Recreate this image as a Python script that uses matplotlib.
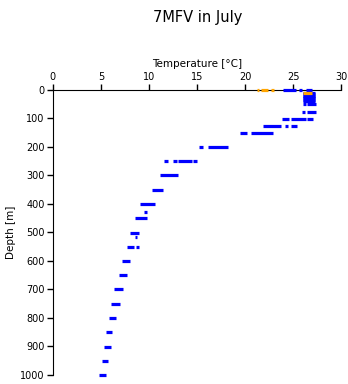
import numpy as np
import matplotlib
matplotlib.use("Agg")
import matplotlib.pyplot as plt

# surface (orange) samples: depth [m], temperature range [degC]
surf_depth = [0, 0, 0, 10]
surf_tlo = [21.2, 21.7, 22.7, 26.0]
surf_thi = [21.5, 22.4, 23.0, 27.0]

# profile samples (blue): depth [m], temperature range [degC]
prof_depth = [0, 0, 0, 10, 15, 20, 25, 30, 35, 40,
              50, 50, 78, 78, 103, 103, 103, 127, 127, 127,
              152, 152, 201, 201, 251, 251, 251, 251, 300, 352,
              401, 427, 451, 502, 517, 552, 552, 601, 651, 700,
              751, 801, 850, 901, 951, 1000]
prof_tlo = [24.0, 25.6, 26.3, 26.0, 26.0, 26.0, 26.0, 26.0, 26.0, 26.0,
            26.0, 26.5, 25.9, 26.5, 23.9, 24.8, 26.5, 21.9, 24.2, 24.8,
            19.5, 20.6, 15.2, 16.1, 11.6, 12.5, 13.0, 14.6, 11.1, 10.3,
            9.1, 9.45, 8.5, 8.0, 8.5, 7.7, 8.7, 7.2, 6.85, 6.4,
            6.0, 5.8, 5.5, 5.3, 5.1, 4.8]
prof_thi = [25.3, 25.9, 27.0, 27.3, 27.3, 27.3, 27.3, 27.3, 27.3, 27.3,
            26.3, 27.4, 26.2, 27.4, 24.6, 26.4, 27.1, 23.8, 24.5, 25.4,
            20.2, 22.9, 15.6, 18.2, 12.0, 12.9, 14.5, 15.0, 13.0, 11.5,
            10.6, 9.8, 9.8, 9.0, 8.8, 8.4, 9.0, 8.0, 7.7, 7.3,
            7.0, 6.6, 6.2, 6.0, 5.7, 5.5]

x_ticks = [0, 5, 10, 15, 20, 25, 30]
y_ticks = list(range(0, 1001, 100))

fig = plt.figure(figsize=(3.48, 3.84), dpi=100)
ax = fig.add_axes([0.152, 0.0234, 0.828, 0.7426])

ax.hlines(prof_depth, prof_tlo, prof_thi, color="#0000ff", lw=2.3,
          clip_on=False, zorder=3)
ax.hlines(surf_depth, surf_tlo, surf_thi, color="#ffa500", lw=2.3,
          clip_on=False, zorder=4)

ax.set_xlim(0, 30)
ax.set_ylim(1000, 0)
ax.xaxis.set_ticks_position("top")
ax.xaxis.set_label_position("top")
ax.set_xticks(x_ticks)
ax.set_yticks(y_ticks)
ax.tick_params(direction="out", length=4, width=1, labelsize=7, pad=2)
ax.set_xlabel("Temperature [\u00b0C]", fontsize=7.5, labelpad=3)
ax.set_ylabel("Depth [m]", fontsize=7.5, labelpad=3)
for s in ["right", "bottom"]:
    ax.spines[s].set_visible(False)

fig.text(0.567, 0.975, "7MFV in July", ha="center", va="top", fontsize=10.5)

fig.savefig("out.png", dpi=100)
